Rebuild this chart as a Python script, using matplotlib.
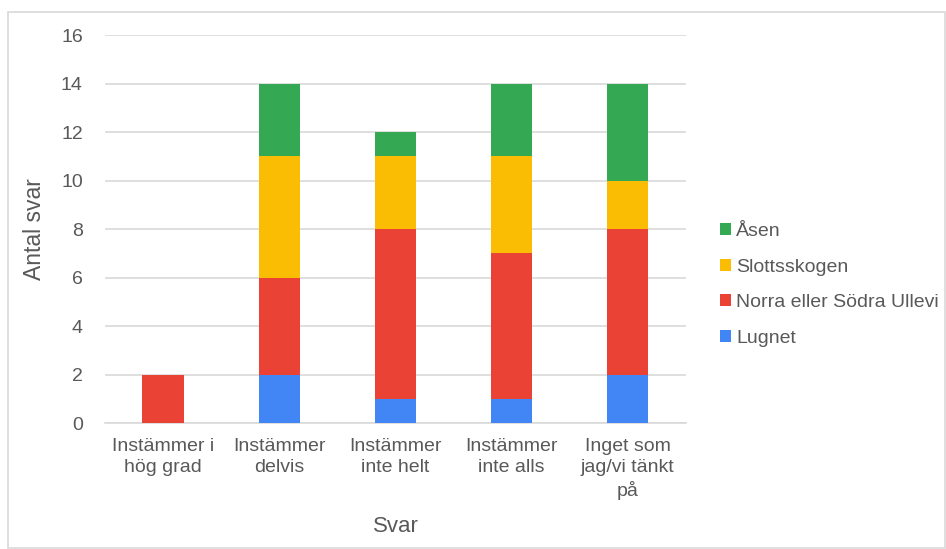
import numpy as np
import matplotlib.pyplot as plt
from matplotlib.patches import Rectangle

plt.rcParams['font.family'] = ['Liberation Sans', 'DejaVu Sans']

categories = ['Instämmer i\nhög grad', 'Instämmer\ndelvis', 'Instämmer\ninte helt',
              'Instämmer\ninte alls', 'Inget som\njag/vi tänkt\npå']
series = ['Lugnet', 'Norra eller Södra Ullevi', 'Slottsskogen', 'Åsen']
lugnet = [0, 2, 1, 1, 2]
norra = [2, 4, 7, 6, 6]
slotts = [0, 5, 3, 4, 2]
asen = [0, 3, 1, 3, 4]
colors = ['#4285F4', '#EA4335', '#FBBC04', '#34A853']

text_col = '#595959'

fig = plt.figure(figsize=(9.46, 5.49), dpi=100)
ax = fig.add_axes([0.111, 0.2295, 0.614, 0.7065])

x = np.arange(len(categories))
bottom = np.zeros(len(categories))
handles = []
for name, vals, c in zip(series, [lugnet, norra, slotts, asen], colors):
    b = ax.bar(x, vals, bottom=bottom, width=0.355, color=c, label=name, zorder=3)
    handles.append(b)
    bottom += np.array(vals)

ax.set_xlim(-0.5, 4.5)
ax.set_ylim(0, 16)
ax.set_yticks(range(0, 17, 2))
ax.yaxis.grid(True, color='#d9d9d9', linewidth=1.2, zorder=0)
ax.set_axisbelow(True)
for s in ['top', 'right', 'left']:
    ax.spines[s].set_visible(False)
ax.spines['bottom'].set_color('#d9d9d9')
ax.spines['bottom'].set_linewidth(1.2)
ax.tick_params(axis='both', length=0, labelsize=14, colors=text_col)
ax.tick_params(axis='y', pad=16)
ax.tick_params(axis='x', pad=11)
ax.set_xticks(x)
ax.set_xticklabels(categories, linespacing=1.3)

ax.set_ylabel('Antal svar', fontsize=16.5, color=text_col, labelpad=11)
ax.set_xlabel('Svar', fontsize=16, color=text_col, labelpad=12)

leg = fig.legend(handles[::-1], series[::-1], loc='center left',
                 bbox_to_anchor=(0.743, 0.481), frameon=False, fontsize=14,
                 handlelength=0.55, handleheight=0.55, handletextpad=0.25,
                 labelspacing=0.95, labelcolor=text_col)

# thin frame round the chart
fig.patches.append(Rectangle((8 / 946, 1 / 549), 937 / 946, 536 / 549,
                             transform=fig.transFigure, fill=False,
                             edgecolor='#d9d9d9', linewidth=1.2))

fig.savefig('out.png', dpi=100)
